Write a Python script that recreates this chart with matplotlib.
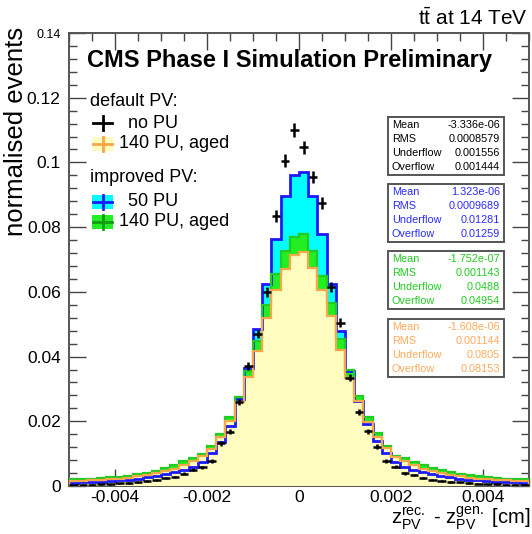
import numpy as np
import matplotlib
matplotlib.use("Agg")
import matplotlib.pyplot as plt
from matplotlib.patches import Rectangle
from matplotlib.ticker import MultipleLocator, FixedLocator

plt.rcParams["font.family"] = ["Liberation Sans", "DejaVu Sans"]
plt.rcParams["mathtext.fontset"] = "custom"
plt.rcParams["mathtext.rm"] = "Liberation Sans"
plt.rcParams["mathtext.it"] = "Liberation Sans:italic"

# z_PV(rec) - z_PV(gen) in cm, 50 bins of 2 um
edges = np.linspace(-0.005, 0.005, 51)

# default PV, no pile-up (points)
nopu_default = [
    0.0003, 0.0004, 0.0004, 0.0005, 0.0006, 0.0008, 0.0009, 0.0011, 0.0015, 0.0018,
    0.0024, 0.0028, 0.0038, 0.0050, 0.0058, 0.0078, 0.0132, 0.0168, 0.0260, 0.0372,
    0.0470, 0.0600, 0.0834, 0.1005, 0.1100, 0.1047, 0.0955, 0.0874, 0.0615, 0.0504,
    0.0335, 0.0230, 0.0169, 0.0122, 0.0078, 0.0060, 0.0039, 0.0033, 0.0026, 0.0020,
    0.0016, 0.0013, 0.0011, 0.0009, 0.0007, 0.0006, 0.0005, 0.0004, 0.0004, 0.0003,
]
# improved PV, 50 PU
pu50_improved = [
    0.0010, 0.0011, 0.0012, 0.0013, 0.0015, 0.0017, 0.0020, 0.0023, 0.0027, 0.0031,
    0.0037, 0.0043, 0.0049, 0.0060, 0.0075, 0.0102, 0.0136, 0.0186, 0.0269, 0.0365,
    0.0485, 0.0624, 0.0763, 0.0895, 0.0960, 0.0970, 0.0895, 0.0779, 0.0624, 0.0480,
    0.0355, 0.0264, 0.0192, 0.0140, 0.0102, 0.0075, 0.0060, 0.0050, 0.0042, 0.0036,
    0.0031, 0.0027, 0.0023, 0.0020, 0.0017, 0.0015, 0.0013, 0.0012, 0.0011, 0.0010,
]
# improved PV, 140 PU, aged detector
pu140_improved = [
    0.0021, 0.0022, 0.0023, 0.0025, 0.0027, 0.0029, 0.0032, 0.0036, 0.0041, 0.0047,
    0.0055, 0.0064, 0.0076, 0.0088, 0.0100, 0.0125, 0.0160, 0.0213, 0.0275, 0.0356,
    0.0449, 0.0560, 0.0655, 0.0727, 0.0770, 0.0778, 0.0727, 0.0650, 0.0565, 0.0455,
    0.0357, 0.0279, 0.0212, 0.0164, 0.0125, 0.0094, 0.0086, 0.0075, 0.0064, 0.0055,
    0.0048, 0.0042, 0.0037, 0.0033, 0.0030, 0.0027, 0.0025, 0.0023, 0.0022, 0.0021,
]
# default PV, 140 PU, aged detector
pu140_default = [
    0.0015, 0.0016, 0.0017, 0.0019, 0.0021, 0.0023, 0.0026, 0.0030, 0.0034, 0.0039,
    0.0046, 0.0054, 0.0064, 0.0077, 0.0093, 0.0115, 0.0150, 0.0200, 0.0260, 0.0336,
    0.0418, 0.0520, 0.0605, 0.0670, 0.0715, 0.0722, 0.0675, 0.0605, 0.0525, 0.0420,
    0.0335, 0.0262, 0.0198, 0.0152, 0.0117, 0.0090, 0.0076, 0.0064, 0.0054, 0.0046,
    0.0039, 0.0034, 0.0030, 0.0026, 0.0023, 0.0021, 0.0019, 0.0017, 0.0016, 0.0015,
]

x_ticks = [-0.004, -0.002, 0, 0.002, 0.004]
x_ticklabels = ["-0.004", "-0.002", "0", "0.002", "0.004"]
y_ticks = [0, 0.02, 0.04, 0.06, 0.08, 0.10, 0.12, 0.14]
y_ticklabels = ["0", "0.02", "0.04", "0.06", "0.08", "0.1", "0.12", "0.14"]

# stat box contents
stat_rows = ["Mean", "RMS", "Underflow", "Overflow"]
stats = [
    ("black",   ["-3.336e-06", "0.0008579", "0.001556", "0.001444"]),
    ("#2b2bff", ["1.323e-06", "0.0009689", "0.01281", "0.01259"]),
    ("#22cc22", ["-1.752e-07", "0.001143", "0.0488", "0.04954"]),
    ("#ffab5e", ["-1.608e-06", "0.001144", "0.0805", "0.08153"]),
]

W, H = 532, 534
def fx(x):
    return x / W
def fy(y):
    return 1 - y / H

fig = plt.figure(figsize=(W / 100, H / 100), dpi=100)
ax = fig.add_axes([fx(69), fy(486), (529 - 69) / W, (486 - 33) / H])

cyan, blue = "#00ffff", "#1a1aff"
green_fill, green_line = "#22ee22", "#22cc22"
yellow, orange = "#fffcbf", "#f7a64a"

# fills first, outlines on top
ax.stairs(pu50_improved, edges, fill=True, color=cyan, zorder=1)
ax.stairs(pu140_improved, edges, fill=True, color=green_fill, zorder=2)
ax.stairs(pu140_default, edges, fill=True, color=yellow, zorder=3)
ax.stairs(pu50_improved, edges, color=blue, lw=2.0, zorder=4)
ax.stairs(pu140_improved, edges, color=green_line, lw=1.6, zorder=4)
ax.stairs(pu140_default, edges, color=orange, lw=1.6, zorder=5)

centers = 0.5 * (edges[:-1] + edges[1:])
nopu = np.array(nopu_default)
ax.errorbar(centers, nopu, xerr=0.00009, yerr=0.0062 * np.sqrt(nopu),
            fmt="none", ecolor="black", elinewidth=1.8, zorder=6)

ax.set_xlim(-0.005, 0.005)
ax.set_ylim(0, 0.14)
ax.xaxis.set_major_locator(FixedLocator(x_ticks))
ax.xaxis.set_minor_locator(MultipleLocator(0.0005))
ax.yaxis.set_major_locator(FixedLocator(y_ticks))
ax.yaxis.set_minor_locator(MultipleLocator(0.004))
ax.set_xticklabels(x_ticklabels)
ax.set_yticklabels(y_ticklabels)
ax.tick_params(which="both", direction="in", top=True, right=True,
               labelsize=12.5, color="#444444")
ax.tick_params(which="major", length=12, width=1.0)
ax.tick_params(axis="x", which="major", pad=3)
ax.tick_params(axis="y", which="major", pad=6)
ax.tick_params(which="minor", length=6, width=1.0)
ax.yaxis.get_ticklabels()[-1].set_fontsize(9)
for s in ax.spines.values():
    s.set_color("#555555")
    s.set_linewidth(1.4)

# axis titles, ROOT style at the ends of the axes
fig.text(fx(16), fy(27), "normalised events", rotation=90, ha="center",
         va="top", fontsize=18.5)
fig.text(fx(530), fy(524),
         r"z$_{\mathrm{PV}}^{\mathrm{rec.}}$ - z$_{\mathrm{PV}}^{\mathrm{gen.}}$ [cm]",
         ha="right", va="baseline", fontsize=14.5)
fig.text(fx(528), fy(18), r"t$\bar{\mathrm{t}}$ at 14 TeV", ha="right",
         va="center", fontsize=15)
fig.text(fx(87), fy(61), "CMS Phase I Simulation Preliminary", ha="left",
         va="center", fontsize=17, fontweight="bold")

# legend
leg_fs = 13
fig.text(fx(90), fy(102), "default PV:", va="center", fontsize=leg_fs)
fig.text(fx(90), fy(177), "improved PV:", va="center", fontsize=leg_fs)
entries = [
    (123, None, "black", "no PU", 128),
    (144, yellow, orange, "140 PU, aged", 119),
    (202, cyan, blue, "50 PU", 128),
    (222, green_fill, "#129a12", "140 PU, aged", 119),
]
for y, face, edge, label, tx in entries:
    if face is not None:
        fig.patches.append(Rectangle((fx(92), fy(y + 7)), 21 / W, 14 / H,
                                     transform=fig.transFigure, facecolor=face,
                                     edgecolor="none"))
    fig.lines.append(plt.Line2D([fx(93), fx(112)], [fy(y), fy(y)],
                                transform=fig.transFigure, color=edge, lw=2))
    fig.lines.append(plt.Line2D([fx(102.5), fx(102.5)], [fy(y - 7), fy(y + 7)],
                                transform=fig.transFigure, color=edge, lw=2))
    fig.text(fx(tx), fy(y), label, va="center", fontsize=leg_fs)

# stat boxes
box_tops = [117, 184, 251, 319]
for top, (col, vals) in zip(box_tops, stats):
    fig.patches.append(Rectangle((fx(388), fy(top + 58)), 116 / W, 58 / H,
                                 transform=fig.transFigure, facecolor="white",
                                 edgecolor="#555555", lw=1.4, zorder=10))
    for i, (name, v) in enumerate(zip(stat_rows, vals)):
        yy = top + 8 + 14 * i
        fig.text(fx(392), fy(yy), name, color=col, fontsize=7.8, va="center",
                 zorder=11)
        fig.text(fx(500), fy(yy), v, color=col, fontsize=7.8, va="center",
                 ha="right", zorder=11)

fig.savefig("out.png", dpi=100)
